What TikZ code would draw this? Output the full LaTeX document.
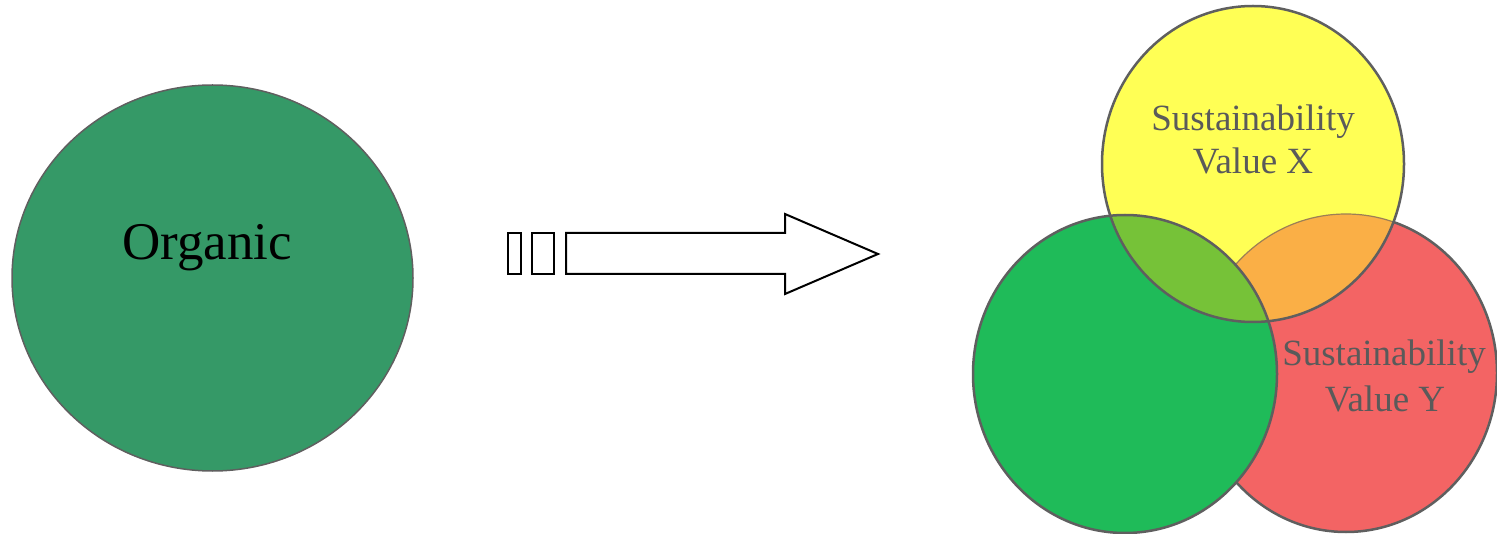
\documentclass[tikz,border=0pt]{standalone}
\usepackage{fontspec}
\setmainfont{Liberation Serif}
\definecolor{orgGreen}{RGB}{53,153,103}
\definecolor{vGreen}{RGB}{31,187,89}
\definecolor{vYellow}{RGB}{255,255,85}
\definecolor{vRed}{RGB}{243,100,100}
\definecolor{vOrange}{RGB}{250,175,70}
\definecolor{vLime}{RGB}{118,194,56}
\definecolor{rim}{RGB}{95,95,95}
\definecolor{txtGray}{RGB}{90,90,90}
\begin{document}
\begin{tikzpicture}[x=1pt,y=-1pt,
  rimline/.style={draw=rim,line width=2.5pt},
  arrowline/.style={draw=black,line width=2pt,fill=white,line join=miter},
  bigtext/.style={font=\fontsize{53}{60}\selectfont,text=black,anchor=base,inner sep=0pt},
  vtext/.style={font=\fontsize{37}{44}\selectfont,text=txtGray,anchor=base,inner sep=0pt}]
\useasboundingbox (0,0) rectangle (1497,534);
% centres
\coordinate (org) at (212.5,278);
\coordinate (cy) at (1253,164);
\coordinate (cg) at (1125,374);
\coordinate (cr) at (1346,373);
% left ellipse
\path[fill=orgGreen,draw=rim,line width=1.5pt] (org) ellipse [x radius=200.5, y radius=193];
\node[bigtext] (organic) at (207,260) {Organic};
% arrow
\draw[arrowline] (508,233) rectangle (521,274);
\draw[arrowline] (532,233) rectangle (554,274);
\draw[arrowline] (566,233) -- (785,233) -- (785,214) -- (878,254) -- (785,294) -- (785,274) -- (566,274) -- cycle;
% venn
\path[fill=vRed,rimline] (cr) ellipse [x radius=151, y radius=159];
\path[fill=vGreen,rimline] (cg) ellipse [x radius=152, y radius=159];
\path[fill=vYellow] (cy) ellipse [x radius=151, y radius=158];
\begin{scope}
  \clip (cy) ellipse [x radius=151, y radius=158];
  \path[fill=vOrange] (cr) ellipse [x radius=151, y radius=159];
  \path[draw=rim!60!vOrange,line width=1.2pt] (cr) ellipse [x radius=151, y radius=159];
  \path[fill=vLime] (cg) ellipse [x radius=152, y radius=159];
  \path[rimline] (cg) ellipse [x radius=152, y radius=159];
\end{scope}
\path[rimline] (cy) ellipse [x radius=151, y radius=158];
\node[vtext] (x1) at (1253,131) {Sustainability};
\node[vtext] (x2) at (1253,174) {Value X};
\node[vtext] (y1) at (1384,366) {Sustainability};
\node[vtext] (y2) at (1385,412) {Value Y};
\end{tikzpicture}
\end{document}
